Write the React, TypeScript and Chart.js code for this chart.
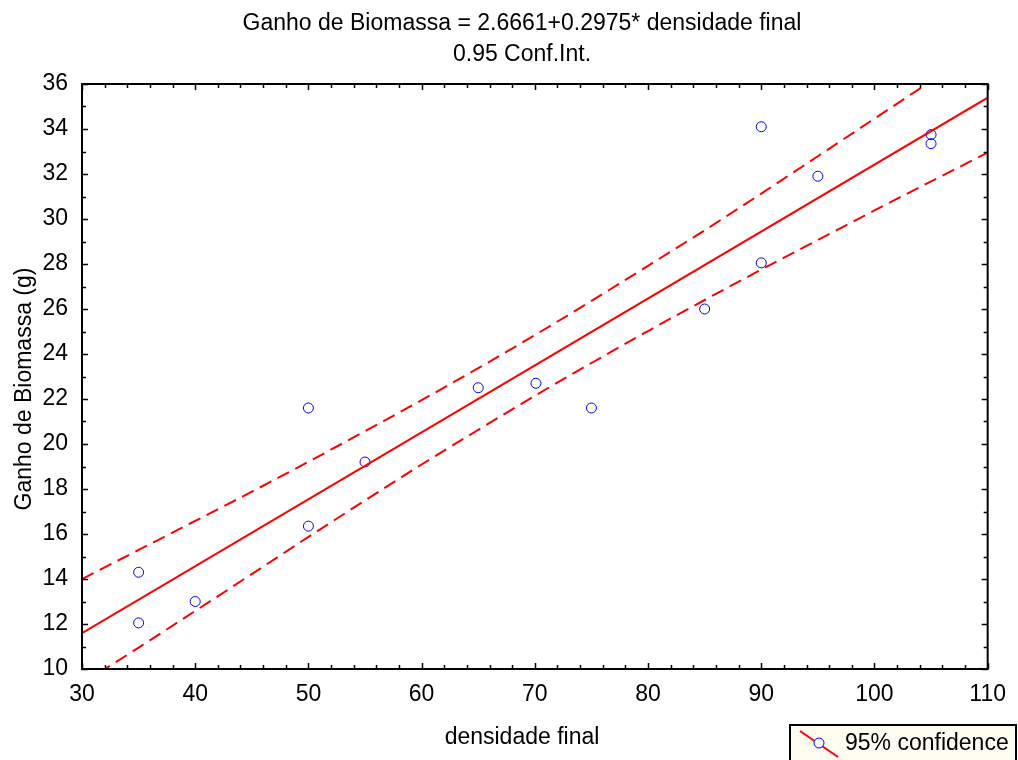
import React, { useEffect, useRef } from "react";
import { Chart, registerables } from "chart.js";

Chart.register(...registerables);

// Observed data points
const densidade: number[] = [35, 35, 40, 50, 50, 55, 65, 70.1, 75, 85, 90, 90, 95, 105, 105];
const biomassa: number[] = [14.3, 12.05, 13.0, 21.6, 16.35, 19.2, 22.5, 22.7, 21.6, 26.0, 34.1, 28.05, 31.9, 33.75, 33.35];

// Regression line (read from title / picture)
const fitX: number[] = [30, 110];
const fitY: number[] = [11.59, 35.39];

// 95% confidence band
const bandX: number[] = [30, 35, 40, 45, 50, 55, 60, 65, 70, 75, 80, 85, 90, 95, 100, 105, 110];
const upperY: number[] = [14.0, 15.29, 16.58, 17.88, 19.21, 20.57, 21.95, 23.37, 24.84, 26.36, 27.92, 29.5, 31.13, 32.79, 34.46, 36.13, 37.83];
const lowerY: number[] = [9.35, 10.95, 12.58, 14.22, 15.87, 17.49, 19.09, 20.63, 22.14, 23.6, 25.02, 26.4, 27.75, 29.07, 30.38, 31.67, 32.95];

const titleLines: string[] = ["Ganho de Biomassa = 2.6661+0.2975* densidade final", "0.95 Conf.Int."];
const xTitle = "densidade final";
const yTitle = "Ganho de Biomassa (g)";
const legendLabel = "95% confidence";

const FONT = "'Liberation Sans', Arial, sans-serif";
const FS = 23;

const framePlugin = {
  id: "frameTicks",
  afterDatasetsDraw(chart: any) {
    const { ctx, chartArea, scales } = chart;
    const { left, right, top, bottom } = chartArea;
    const xs = scales.x;
    const ys = scales.y;
    ctx.save();
    ctx.strokeStyle = "#000";
    ctx.lineWidth = 1.5;
    for (let v = 30; v <= 110; v += 2) {
      const px = Math.round(xs.getPixelForValue(v)) + 0.5;
      const len = v % 10 === 0 ? 6 : 4;
      ctx.beginPath();
      ctx.moveTo(px, bottom);
      ctx.lineTo(px, bottom - len);
      ctx.moveTo(px, top);
      ctx.lineTo(px, top + len);
      ctx.stroke();
    }
    for (let v = 10; v <= 36; v += 1) {
      const py = Math.round(ys.getPixelForValue(v)) + 0.5;
      const len = v % 2 === 0 ? 6 : 4;
      ctx.beginPath();
      ctx.moveTo(left, py);
      ctx.lineTo(left + len, py);
      ctx.moveTo(right, py);
      ctx.lineTo(right - len, py);
      ctx.stroke();
    }
    ctx.lineWidth = 2;
    ctx.strokeRect(left, top, right - left, bottom - top);
    ctx.restore();
  },
  afterDraw(chart: any) {
    const { ctx } = chart;
    ctx.save();
    ctx.fillStyle = "#000";
    ctx.font = `${FS}px ${FONT}`;
    ctx.textAlign = "center";
    ctx.textBaseline = "middle";
    ctx.fillText(titleLines[0], 522, 24);
    ctx.fillText(titleLines[1], 522, 55);
    // axis titles
    ctx.textBaseline = "alphabetic";
    ctx.fillText(xTitle, 522, 744);
    ctx.save();
    ctx.translate(31, 389);
    ctx.rotate(-Math.PI / 2);
    ctx.fillText(yTitle, 0, 0);
    ctx.restore();
    // legend box
    ctx.fillStyle = "#FFFCF2";
    ctx.fillRect(790, 725, 226, 40);
    ctx.strokeStyle = "#000";
    ctx.lineWidth = 2;
    ctx.strokeRect(790, 725, 226, 40);
    ctx.strokeStyle = "#FF0000";
    ctx.lineWidth = 2;
    ctx.beginPath();
    ctx.moveTo(800, 731);
    ctx.lineTo(838, 757);
    ctx.stroke();
    ctx.fillStyle = "#FFFCF2";
    ctx.strokeStyle = "#0000FF";
    ctx.lineWidth = 1;
    ctx.beginPath();
    ctx.arc(819, 743, 5, 0, Math.PI * 2);
    ctx.fill();
    ctx.stroke();
    ctx.fillStyle = "#000";
    ctx.textAlign = "left";
    ctx.textBaseline = "middle";
    ctx.fillText(legendLabel, 845, 744);
    ctx.restore();
  },
};

export default function App() {
  const ref = useRef<HTMLCanvasElement | null>(null);
  useEffect(() => {
    if (!ref.current) return;
    const chart = new Chart(ref.current, {
      type: "scatter",
      data: {
        datasets: [
          {
            label: "upper",
            data: bandX.map((x, i) => ({ x, y: upperY[i] })),
            showLine: true,
            borderColor: "#FF0000",
            borderWidth: 2,
            borderDash: [13, 7],
            pointRadius: 0,
            cubicInterpolationMode: "monotone",
            fill: false,
          },
          {
            label: "lower",
            data: bandX.map((x, i) => ({ x, y: lowerY[i] })),
            showLine: true,
            borderColor: "#FF0000",
            borderWidth: 2,
            borderDash: [13, 7],
            pointRadius: 0,
            cubicInterpolationMode: "monotone",
            fill: false,
          },
          {
            label: "fit",
            data: fitX.map((x, i) => ({ x, y: fitY[i] })),
            showLine: true,
            borderColor: "#FF0000",
            borderWidth: 2,
            pointRadius: 0,
            fill: false,
          },
          {
            label: "data",
            data: densidade.map((x, i) => ({ x, y: biomassa[i] })),
            showLine: false,
            pointRadius: 5,
            pointBorderWidth: 1,
            pointBorderColor: "#0000FF",
            pointBackgroundColor: "rgba(0,0,0,0)",
            borderColor: "#0000FF",
            backgroundColor: "rgba(0,0,0,0)",
          },
        ],
      } as any,
      options: {
        animation: false,
        responsive: true,
        maintainAspectRatio: false,
        layout: { padding: { top: 84, right: 30, left: 0, bottom: 0 } },
        plugins: { legend: { display: false }, tooltip: { enabled: false }, title: { display: false } },
        scales: {
          x: {
            type: "linear",
            min: 30,
            max: 110,
            afterFit: (s: any) => { s.height = 91; },
            ticks: { stepSize: 10, color: "#000", font: { family: FONT, size: FS }, padding: 12 },
            grid: { display: false, drawTicks: false },
            border: { display: false },
            title: { display: false },
          },
          y: {
            type: "linear",
            min: 10,
            max: 36,
            afterFit: (s: any) => { s.width = 82; },
            ticks: { stepSize: 2, color: "#000", font: { family: FONT, size: FS }, padding: 14 },
            grid: { display: false, drawTicks: false },
            border: { display: false },
            title: { display: false },
          },
        },
      } as any,
      plugins: [framePlugin],
    });
    return () => chart.destroy();
  }, []);
  return (
    <div style={{ position: "fixed", left: 0, top: 0, width: 1018, height: 760, background: "#fff" }}>
      <canvas ref={ref} />
    </div>
  );
}
